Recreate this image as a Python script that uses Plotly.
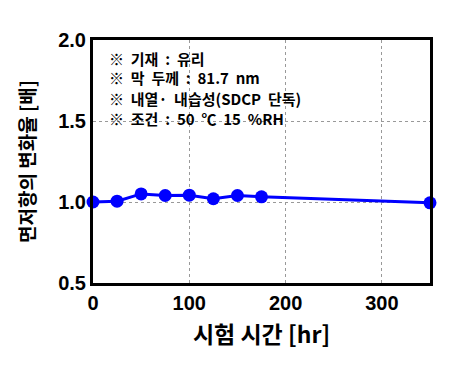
import plotly.graph_objects as go

hours = [0, 25, 50, 75, 100, 125, 150, 175, 350]
ratio = [1.0, 1.005, 1.05, 1.04, 1.042, 1.02, 1.04, 1.032, 0.995]
x_ticks = [0, 100, 200, 300]
y_ticks = [0.5, 1.0, 1.5, 2.0]
notes = ["※ 기재 : 유리", "※ 막 두께 : 81.7 nm", "※ 내열· 내습성(SDCP 단독)", "※ 조건 : 50 ℃ 15 %RH"]

fig = go.Figure()
fig.add_trace(go.Scatter(x=hours, y=ratio, mode="lines+markers",
                         line=dict(color="#0000ff", width=3),
                         marker=dict(color="#0000ff", size=13),
                         cliponaxis=False, showlegend=False))

grid = dict(showgrid=True, gridcolor="#999999", griddash="3px,3px", gridwidth=1)
fig.update_xaxes(range=[0, 350], tickvals=x_ticks, ticks="", showline=True, mirror=True,
                 linecolor="black", linewidth=3, zeroline=False, automargin=False,
                 tickfont=dict(family="Liberation Sans", size=20, color="black", weight="bold"),
                 title=dict(text="시험 시간 [hr]", standoff=14,
                            font=dict(family="Noto Sans CJK KR", size=23, color="black", weight="bold")),
                 **grid)
fig.update_yaxes(range=[0.5, 2.0], tickvals=y_ticks, tickformat=".1f", ticks="", showline=True, mirror=True,
                 linecolor="black", linewidth=3, zeroline=False, automargin=False,
                 tickfont=dict(family="Liberation Sans", size=20, color="black", weight="bold"),
                 title=dict(text="면저항의 변화율 [배]", standoff=18,
                            font=dict(family="Noto Sans CJK KR", size=19, color="black", weight="bold")),
                 **grid)

for i, t in enumerate(notes):
    fig.add_annotation(text=t.replace(" ", "\u00a0 ").rstrip(), xref="paper", yref="paper",
                       x=0.042, y=1 - (18 + 20 * i) / 243,
                       xanchor="left", yanchor="middle", showarrow=False,
                       font=dict(family="Noto Sans CJK KR", size=15, color="black", weight="bold"))

fig.update_layout(width=466, height=379, margin=dict(l=85, r=44, t=32, b=104),
                  plot_bgcolor="white", paper_bgcolor="white")
fig.write_html("out.html")
